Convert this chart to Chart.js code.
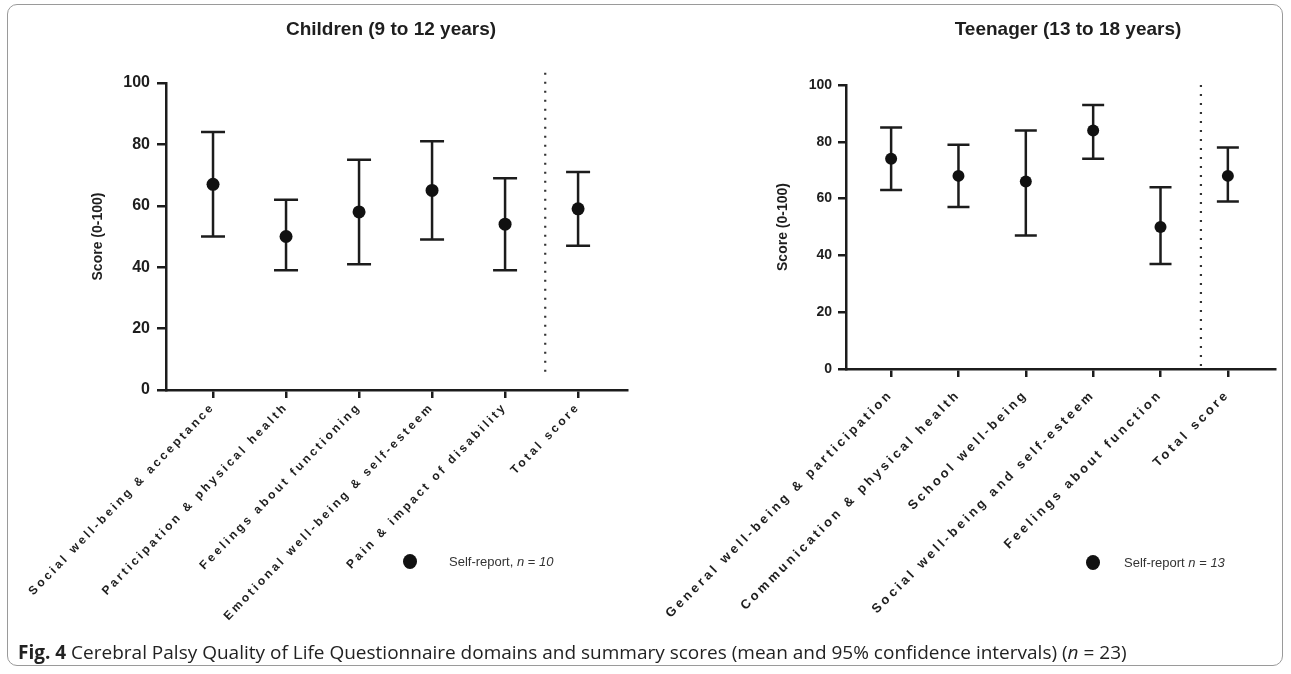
<!DOCTYPE html>
<html>
<head>
<meta charset="utf-8">
<script src="https://cdn.jsdelivr.net/npm/chart.js@4.4.1/dist/chart.umd.min.js"></script>
<style>
  html, body { margin: 0; padding: 0; background: #fff; }
  #page { position: relative; width: 1291px; height: 674px; overflow: hidden; font-family: Arial, "Liberation Sans", sans-serif; }
  #frame { position: absolute; left: 7px; top: 4px; width: 1276px; height: 662px; border: 1px solid #9a9a9a; border-radius: 10px; box-sizing: border-box; }
  canvas { position: absolute; top: 0; }
  .title { position: absolute; top: 18px; font-weight: bold; font-size: 19px; color: #1e1e1e; transform: translateX(-50%); white-space: nowrap; }
  .legend { position: absolute; font-size: 13px; color: #333; white-space: nowrap; }
  .legend .dot { position: absolute; width: 14px; height: 15px; border-radius: 50%; background: #111; }
  .caption { position: absolute; left: 18px; top: 639px; font-family: "Open Sans", sans-serif; font-size: 19px; color: #222; white-space: nowrap; }
</style>
</head>
<body>
<div id="page">
  <div id="frame"></div>
  <canvas id="childChart" width="645" height="674" style="left:0px;width:645px;height:674px"></canvas>
  <canvas id="teenChart" width="646" height="674" style="left:645px;width:646px;height:674px"></canvas>
  <div class="title" style="left:391px">Children (9 to 12 years)</div>
  <div class="title" style="left:1068px">Teenager (13 to 18 years)</div>
  <div class="legend" style="left:449px;top:554px"><span class="dot" style="left:-46px;top:0px"></span>Self-report, <i>n</i> = <i>10</i></div>
  <div class="legend" style="left:1124px;top:555px"><span class="dot" style="left:-38px;top:0px"></span>Self-report <i>n</i> = <i>13</i></div>
  <div class="caption"><b>Fig. 4</b> Cerebral Palsy Quality of Life Questionnaire domains and summary scores (mean and 95% confidence intervals) (<i>n</i> = 23)</div>
</div>
<script>
const childLabels = [
  "Social well-being & acceptance",
  "Participation & physical health",
  "Feelings about functioning",
  "Emotional well-being & self-esteem",
  "Pain & impact of disability",
  "Total score",
];
const childMeans = [67, 50, 58, 65, 54, 59];
const childLower = [50, 39, 41, 49, 39, 47];
const childUpper = [84, 62, 75, 81, 69, 71];

const teenLabels = [
  "General well-being & participation",
  "Communication & physical health",
  "School well-being",
  "Social well-being and self-esteem",
  "Feelings about function",
  "Total score",
];
const teenMeans = [74, 68, 66, 84, 50, 68];
const teenLower = [63, 57, 47, 74, 37, 59];
const teenUpper = [85, 79, 84, 93, 64, 78];

const yTickStep = 20;

const INK = "#1c1c1c";
const CANVAS_HEIGHT = 674;

const errorBarPlugin = {
  id: "ciBars",
  beforeDatasetsDraw(chart, args, options) {
    const dataset = chart.data.datasets[0];
    const meta = chart.getDatasetMeta(0);
    const yScale = chart.scales.y;
    const ctx = chart.ctx;

    ctx.save();
    ctx.strokeStyle = INK;
    ctx.lineWidth = 2.5;
    ctx.lineCap = "butt";

    meta.data.forEach((point, i) => {
      const topY = yScale.getPixelForValue(dataset.upper[i]);
      const bottomY = yScale.getPixelForValue(dataset.lower[i]);
      const x = point.x;
      const cap = options.capWidth;
      ctx.beginPath();
      ctx.moveTo(x, topY);
      ctx.lineTo(x, bottomY);
      ctx.moveTo(x - cap, topY);
      ctx.lineTo(x + cap, topY);
      ctx.moveTo(x - cap, bottomY);
      ctx.lineTo(x + cap, bottomY);
      ctx.stroke();
    });

    ctx.restore();
  },
};

const dividerPlugin = {
  id: "divider",
  afterDraw(chart, args, options) {
    const x = chart.scales.x.getPixelForValue(options.at);
    const yScale = chart.scales.y;
    const ctx = chart.ctx;
    ctx.save();
    ctx.strokeStyle = "#333";
    ctx.lineWidth = 2.2;
    ctx.setLineDash([2, 7]);
    ctx.beginPath();
    ctx.moveTo(x, yScale.getPixelForValue(options.from));
    ctx.lineTo(x, yScale.getPixelForValue(options.to));
    ctx.stroke();
    ctx.restore();
  },
};

// spread the letters of the category labels, as in the figure
const spacedLabelsPlugin = {
  id: "spacedLabels",
  afterLayout(chart, args, options) {
    const scale = chart.scales.x;
    if (scale._spacedLabels) {
      return;
    }
    const baseDraw = scale.drawLabels;
    scale.drawLabels = function (area) {
      this.ctx.save();
      this.ctx.letterSpacing = options.spacing;
      baseDraw.call(this, area);
      this.ctx.restore();
    };
    scale._spacedLabels = true;
  },
};

function buildPanel(canvasId, labels, means, lower, upper, panel) {
  const canvas = document.getElementById(canvasId);
  return new Chart(canvas, {
    type: "scatter",
    data: {
      datasets: [
        {
          data: means.map((m, i) => ({ x: i, y: m })),
          lower: lower,
          upper: upper,
          pointRadius: panel.pointRadius,
          pointHoverRadius: panel.pointRadius,
          backgroundColor: "#111",
          borderColor: "#111",
          borderWidth: 0,
          showLine: false,
        },
      ],
    },
    plugins: [errorBarPlugin, dividerPlugin, spacedLabelsPlugin],
    options: {
      responsive: false,
      animation: false,
      layout: {
        padding: { left: panel.padLeft, top: panel.top, right: panel.padRight, bottom: 0 },
      },
      plugins: {
        legend: { display: false },
        tooltip: { enabled: false },
        ciBars: { capWidth: panel.cap },
        divider: { at: panel.dividerAt, from: panel.dividerFrom, to: panel.dividerTo },
        spacedLabels: { spacing: panel.letterSpacing },
      },
      scales: {
        x: {
          type: "linear",
          min: panel.xMin,
          max: panel.xMax,
          afterBuildTicks(scale) {
            scale.ticks = labels.map((_, i) => ({ value: i }));
          },
          afterFit(scale) {
            scale.height = CANVAS_HEIGHT - panel.bottom;
          },
          ticks: {
            autoSkip: false,
            minRotation: panel.rotation,
            maxRotation: panel.rotation,
            padding: panel.labelPad,
            color: "#1e1e1e",
            font: { family: "Arial, 'Liberation Sans'", size: panel.labelSize, weight: "bold" },
            callback: (value) => labels[value] ?? "",
          },
          grid: {
            drawOnChartArea: false,
            drawTicks: true,
            tickLength: 8,
            lineWidth: 2.5,
            color: INK,
          },
          border: { display: true, color: INK, width: 2.5 },
        },
        y: {
          min: 0,
          max: 100,
          afterFit(scale) {
            scale.width = panel.left - panel.padLeft;
          },
          ticks: {
            stepSize: yTickStep,
            padding: panel.yTickPad,
            color: "#1e1e1e",
            font: { family: "Arial, 'Liberation Sans'", size: panel.yTickSize, weight: "bold" },
          },
          grid: {
            drawOnChartArea: false,
            drawTicks: true,
            tickLength: panel.yTickLen,
            lineWidth: 2.5,
            color: INK,
          },
          border: { display: true, color: INK, width: 2.5 },
          title: {
            display: true,
            text: "Score (0-100)",
            color: "#1e1e1e",
            padding: { top: panel.yTitlePad, bottom: 0 },
            font: { family: "Arial, 'Liberation Sans'", size: 14, weight: "bold" },
          },
        },
      },
    },
  });
}

buildPanel("childChart", childLabels, childMeans, childLower, childUpper, {
  padLeft: 82, left: 166, top: 83, padRight: 18, bottom: 390,
  xMin: -0.644, xMax: 5.67,
  rotation: 46, labelSize: 12, letterSpacing: "2.8px", labelPad: 2,
  yTickSize: 16, yTickPad: 7, yTickLen: 9, yTitlePad: 8,
  pointRadius: 6.5, cap: 12,
  dividerAt: 4.55, dividerFrom: 103.3, dividerTo: 4,
});

buildPanel("teenChart", teenLabels, teenMeans, teenLower, teenUpper, {
  padLeft: 120, left: 201, top: 85, padRight: 16, bottom: 369,
  xMin: -0.67, xMax: 5.7,
  rotation: 45, labelSize: 13, letterSpacing: "3.1px", labelPad: 10,
  yTickSize: 14, yTickPad: 6, yTickLen: 8, yTitlePad: 10,
  pointRadius: 6, cap: 11,
  dividerAt: 4.6, dividerFrom: 100, dividerTo: 0.7,
});
</script>
</body>
</html>
